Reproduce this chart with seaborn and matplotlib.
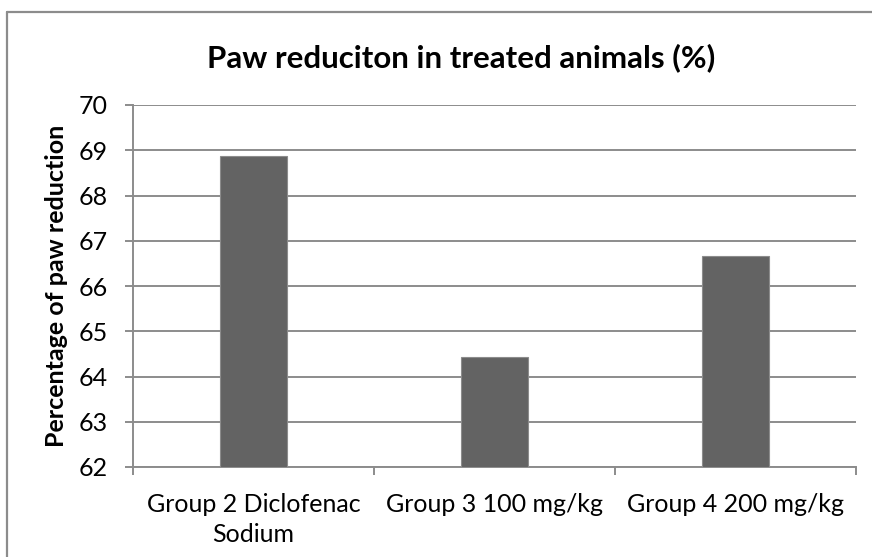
import matplotlib
matplotlib.use("Agg")
import matplotlib.pyplot as plt
from matplotlib.lines import Line2D
import seaborn as sns
import pandas as pd

groups = ["Group 2 Diclofenac\nSodium", "Group 3 100 mg/kg", "Group 4 200 mg/kg"]
reduction = [68.88, 64.42, 66.66]
y_ticks = [62, 63, 64, 65, 66, 67, 68, 69, 70]

df = pd.DataFrame({"group": groups, "reduction": reduction})

sns.set_theme(style="white")
plt.rcParams["font.family"] = ["Lato", "DejaVu Sans"]

W, H = 872, 557
fig = plt.figure(figsize=(W / 100, H / 100), dpi=100)
ax = fig.add_axes([133 / W, 1 - 467 / H, (856 - 133) / W, (467 - 105) / H])

sns.barplot(data=df, x="group", y="reduction", color="#636363", width=0.28,
            saturation=1, edgecolor="#8c8c8c", linewidth=0.8, ax=ax, zorder=3)

ax.set_ylim(62, 70)
ax.set_xlim(-0.5, 2.5)
ax.set_yticks(y_ticks)
ax.yaxis.grid(True, color="#8c8c8c", linewidth=1.4, zorder=0)
ax.set_axisbelow(True)

for side in ["top", "right"]:
    ax.spines[side].set_visible(False)
for side in ["left", "bottom"]:
    ax.spines[side].set_color("#8c8c8c")
    ax.spines[side].set_linewidth(1.4)

# category boundary tick marks on the x axis
ax.set_xticks([-0.5, 0.5, 1.5, 2.5], minor=True)
ax.tick_params(axis="x", which="minor", length=6, width=1.4, color="#8c8c8c",
               direction="out", bottom=True)
ax.tick_params(axis="x", which="major", length=0, labelsize=18, pad=19,
               labelcolor="black", bottom=False)
ax.tick_params(axis="y", length=6, width=1.4, color="#8c8c8c", direction="out",
               labelsize=18, pad=12, labelcolor="black", left=True)
for lbl in ax.get_xticklabels():
    lbl.set_linespacing(1.35)

ax.set_xlabel("")
ax.set_ylabel("Percentage of paw reduction", fontsize=18, fontweight="bold",
              color="black", labelpad=8)

fig.text(461 / W, 1 - 58 / H, "Paw reduciton in treated animals (%)",
         ha="center", va="center", fontsize=22.5, fontweight="bold", color="black")

# chart-area border
fig.add_artist(Line2D([7 / W, 1.0], [1 - 12 / H, 1 - 12 / H], color="#8c8c8c",
                      linewidth=1.6, transform=fig.transFigure))
fig.add_artist(Line2D([7 / W, 7 / W], [0.0, 1 - 12 / H], color="#8c8c8c",
                      linewidth=1.6, transform=fig.transFigure))

fig.savefig("out.png", dpi=100)
